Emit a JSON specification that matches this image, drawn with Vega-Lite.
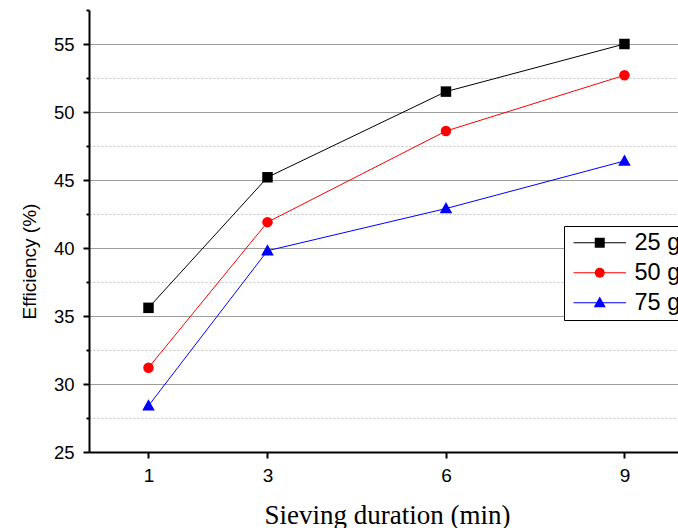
{
  "$schema": "https://vega.github.io/schema/vega-lite/v6.json",
  "width": 589,
  "height": 442,
  "autosize": {"type": "none"},
  "padding": {"left": 89, "top": 10, "right": 0, "bottom": 76},
  "background": "white",
  "config": {
    "view": {"stroke": null},
    "font": "Liberation Sans"
  },
  "data": {
    "values": [
      {"time": 1, "eff": 35.6, "series": "25 g"},
      {"time": 3, "eff": 45.2, "series": "25 g"},
      {"time": 6, "eff": 51.5, "series": "25 g"},
      {"time": 9, "eff": 55.0, "series": "25 g"},
      {"time": 1, "eff": 31.2, "series": "50 g"},
      {"time": 3, "eff": 41.9, "series": "50 g"},
      {"time": 6, "eff": 48.6, "series": "50 g"},
      {"time": 9, "eff": 52.7, "series": "50 g"},
      {"time": 1, "eff": 28.4, "series": "75 g"},
      {"time": 3, "eff": 39.8, "series": "75 g"},
      {"time": 6, "eff": 42.9, "series": "75 g"},
      {"time": 9, "eff": 46.4, "series": "75 g"}
    ]
  },
  "encoding": {
    "x": {
      "field": "time", "type": "quantitative",
      "scale": {"domain": [0, 9.9], "nice": false, "zero": false},
      "axis": {
        "values": [1, 3, 6, 9], "format": "d", "grid": false,
        "title": "Sieving duration (min)",
        "titleFont": "Liberation Serif", "titleFontSize": 27, "titleFontWeight": "normal",
        "titleColor": "black", "titlePadding": 17, "titleX": 298,
        "labelFontSize": 19, "labelColor": "black", "labelPadding": 8,
        "tickSize": 6, "tickWidth": 2, "tickColor": "black",
        "domainWidth": 2, "domainColor": "black"
      }
    },
    "y": {
      "field": "eff", "type": "quantitative",
      "scale": {"domain": [25, 57.5], "nice": false, "zero": false},
      "axis": {
        "values": [25, 27.5, 30, 32.5, 35, 37.5, 40, 42.5, 45, 47.5, 50, 52.5, 55, 57.5],
        "format": "d",
        "labelExpr": "datum.value % 5 === 0 ? datum.label : ''",
        "title": "Efficiency (%)",
        "titleFontSize": 19, "titleFontWeight": "normal", "titleColor": "black", "titlePadding": 14,
        "titleY": 251,
        "labelFontSize": 18.5, "labelColor": "black", "labelPadding": 9,
        "tickColor": "black", "tickWidth": 2,
        "tickSize": {"condition": {"test": "datum.value % 5 !== 0", "value": 3}, "value": 6},
        "domainWidth": 2, "domainColor": "black",
        "grid": true,
        "gridColor": {"condition": {"test": "datum.value % 5 !== 0", "value": "#c4c4c4"}, "value": "#9c9c9c"},
        "gridDash": {"condition": {"test": "datum.value % 5 !== 0", "value": [2, 2]}, "value": []},
        "gridOpacity": {"condition": {"test": "datum.value == 25 || datum.value == 57.5", "value": 0}, "value": 1}
      }
    },
    "color": {
      "field": "series", "type": "nominal",
      "scale": {"domain": ["25 g", "50 g", "75 g"], "range": ["#000000", "#ff0000", "#0000ff"]}
    }
  },
  "layer": [
    {
      "mark": {"type": "line", "strokeWidth": 1},
      "encoding": {
        "color": {
          "field": "series", "type": "nominal",
          "legend": {
            "orient": "none", "legendX": 475, "legendY": 216, "title": null,
            "symbolType": "M-5,0H5", "symbolSize": 110, "symbolStrokeWidth": 1,
            "symbolOffset": 19,
            "labelFontSize": 23.5, "labelColor": "black", "labelOffset": 23,
            "rowPadding": 5, "padding": 5,
            "strokeColor": "black", "fillColor": "white"
          }
        }
      }
    },
    {
      "mark": {"type": "point", "filled": true, "opacity": 1, "size": 110},
      "encoding": {
        "color": {
          "field": "series", "type": "nominal",
          "legend": {
            "orient": "none", "legendX": 475, "legendY": 216, "title": null,
            "symbolSize": 100, "symbolOffset": 19, "symbolOpacity": 1, "symbolStrokeWidth": 0,
            "labelFontSize": 23.5, "labelColor": "transparent", "labelOffset": 23,
            "rowPadding": 5, "padding": 5
          }
        },
        "shape": {
          "field": "series", "type": "nominal",
          "scale": {"domain": ["25 g", "50 g", "75 g"], "range": ["square", "circle", "M0,-1.25L1.2,0.9L-1.2,0.9Z"]},
          "legend": {
            "orient": "none", "legendX": 475, "legendY": 216, "title": null,
            "symbolSize": 100, "symbolOffset": 19, "symbolOpacity": 1, "symbolStrokeWidth": 0,
            "labelFontSize": 23.5, "labelColor": "transparent", "labelOffset": 23,
            "rowPadding": 5, "padding": 5
          }
        }
      }
    }
  ],
  "resolve": {"legend": {"color": "independent", "shape": "independent"}}
}
